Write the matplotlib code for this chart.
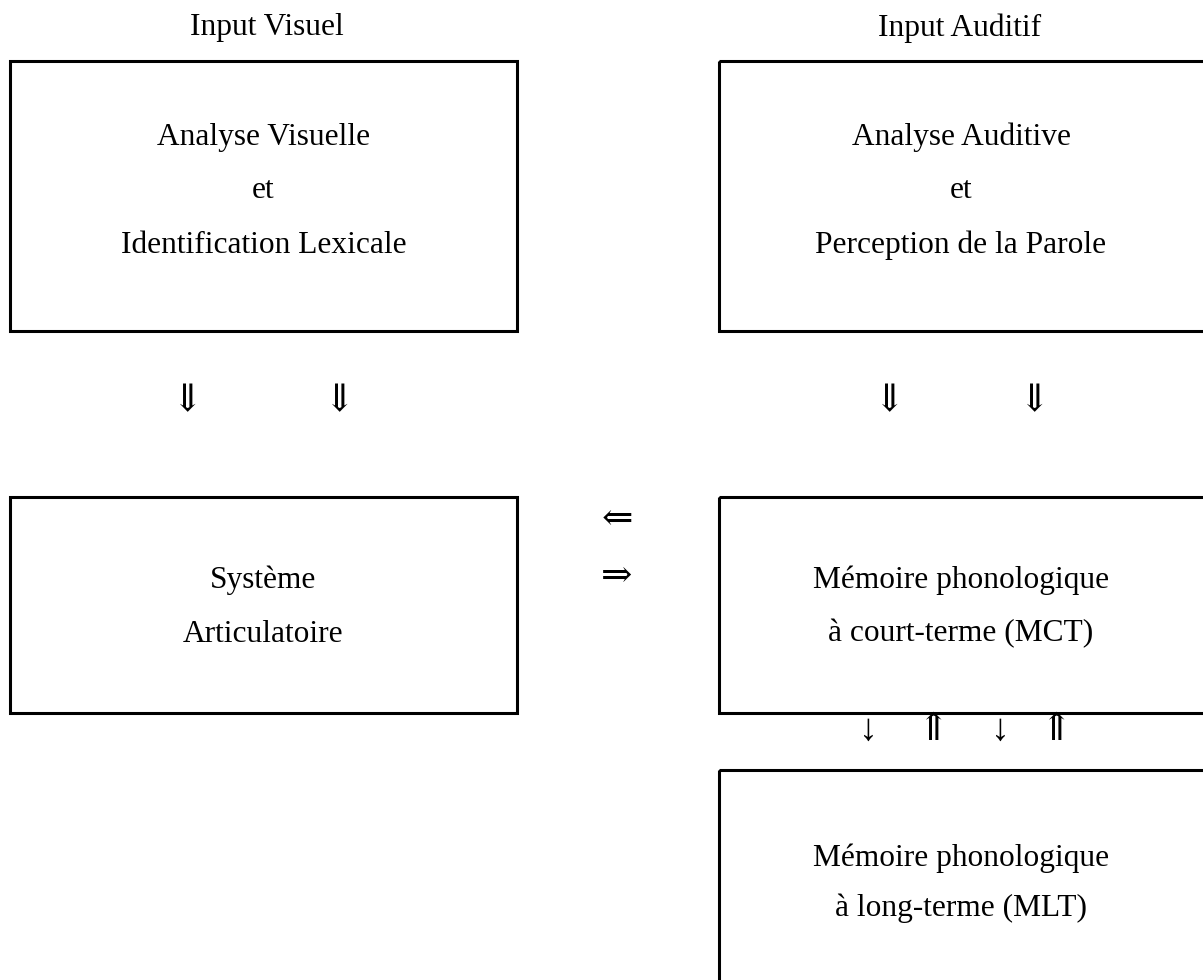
import matplotlib.pyplot as plt
from matplotlib.patches import Rectangle

plt.rcParams['font.family'] = ['Liberation Serif', 'DejaVu Serif', 'DejaVu Sans']

# contenu du schéma
headers = ["Input Visuel", "Input Auditif"]
box_texts = [
    ["Analyse Visuelle", "et", "Identification Lexicale"],
    ["Analyse Auditive", "et", "Perception de la Parole"],
    ["Système", "Articulatoire"],
    ["Mémoire phonologique", "à court-terme (MCT)"],
    ["Mémoire phonologique", "à long-terme (MLT)"],
]
arrow_glyphs = ["⇓", "⇓", "⇓", "⇓", "⇐", "⇒", "↓", "⇑", "↓", "⇑"]

# mise en page (coordonnées en pixels)
W, H = 1203, 980
header_pos = [(267, 28), (960, 28)]
boxes = [  # x0, y0, x1, y1
    (10, 61, 517, 331),
    (719, 61, 1220, 331),
    (10, 497, 517, 713),
    (719, 497, 1220, 713),
    (719, 770, 1220, 1000),
]
line_y = [
    [137, 191, 245],
    [137, 191, 245],
    [580, 634],
    [580, 634],
    [858, 908],
]
arrow_pos = [(188, 402), (340, 402), (890, 402), (1035, 402),
             (617, 521), (617, 578),
             (868, 731), (934, 731), (1000, 731), (1057, 731)]

fig = plt.figure(figsize=(W / 100, H / 100), dpi=100)
ax = fig.add_axes([0, 0, 1, 1])
ax.set_xlim(0, W)
ax.set_ylim(H, 0)
ax.axis('off')

fs = 22.6

for (x, y), t in zip(header_pos, headers):
    ax.text(x, y, t, ha='center', va='center', fontsize=fs)

for (x0, y0, x1, y1), lines, ys in zip(boxes, box_texts, line_y):
    ax.add_patch(Rectangle((x0, y0), x1 - x0, y1 - y0, fill=False,
                           edgecolor='black', linewidth=2.2))
    # les boîtes de droite débordent de l'image : centrer sur la partie visible
    cx = (x0 + min(x1, W)) / 2
    for t, y in zip(lines, ys):
        ax.text(cx, y, t, ha='center', va='center', fontsize=fs)

for (x, y), g in zip(arrow_pos, arrow_glyphs):
    ax.text(x, y, g, ha='center', va='center', fontsize=27)

fig.savefig('out.png', dpi=100, facecolor='white')
